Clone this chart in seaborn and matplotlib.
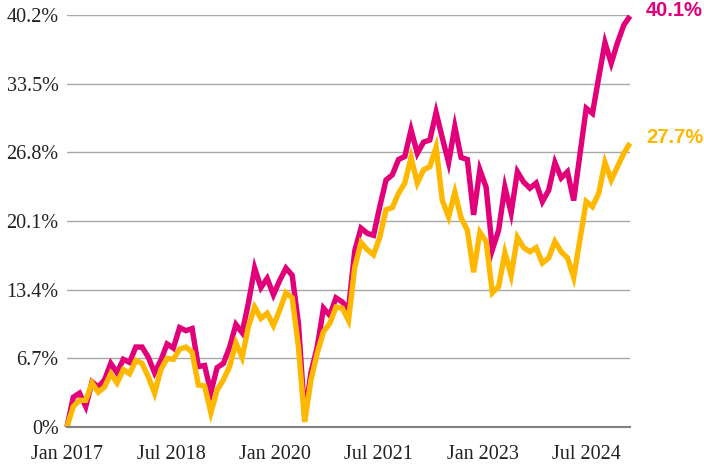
import numpy as np
import pandas as pd
import matplotlib
matplotlib.use("Agg")
import matplotlib.pyplot as plt
from matplotlib.transforms import ScaledTranslation
import seaborn as sns

# Data (monthly, Jan 2017 - Jul 2024), values in %
months = pd.date_range("2017-01-01", "2024-07-01", freq="MS")
pink_vals = [0.0, 2.9, 3.3, 2.0, 4.4, 3.9, 4.6, 6.2, 5.3, 6.6,
             6.3, 7.8, 7.8, 6.8, 5.3, 6.5, 8.1, 7.7, 9.7, 9.4,
             9.6, 5.9, 6.0, 3.4, 5.8, 6.2, 7.8, 10.0, 9.2, 12.1,
             15.5, 13.6, 14.5, 12.9, 14.3, 15.5, 14.8, 10.1, 1.0, 5.3,
             7.8, 11.6, 10.9, 12.6, 12.2, 11.5, 17.2, 19.4, 18.9, 18.7,
             21.5, 24.1, 24.6, 26.1, 26.4, 29.0, 26.7, 27.8, 28.0, 30.7,
             28.2, 25.8, 29.3, 26.3, 26.1, 20.7, 25.1, 23.4, 17.3, 19.2,
             23.4, 20.9, 24.9, 23.9, 23.3, 23.8, 22.0, 23.1, 25.8, 24.3,
             24.9, 22.1, 26.6, 31.1, 30.6, 34.1, 37.5, 35.5, 37.5, 39.2,
             40.1]
yellow_vals = [0.0, 2.0, 2.6, 2.6, 4.3, 3.4, 3.9, 5.2, 4.3, 5.6,
               5.2, 6.5, 6.2, 4.9, 3.3, 5.6, 6.7, 6.6, 7.6, 7.8,
               7.3, 4.1, 4.0, 1.4, 3.6, 4.6, 5.9, 8.2, 6.8, 9.8,
               11.7, 10.6, 11.1, 9.9, 11.4, 13.1, 12.6, 7.8, 0.5, 4.6,
               7.2, 9.3, 10.1, 11.7, 11.6, 10.4, 15.6, 18.0, 17.3, 16.8,
               18.5, 21.2, 21.4, 22.8, 23.8, 26.3, 23.8, 25.1, 25.4, 27.3,
               22.1, 20.5, 22.9, 20.4, 19.2, 15.1, 19.0, 18.1, 13.1, 13.7,
               17.0, 14.8, 18.5, 17.5, 17.1, 17.5, 16.0, 16.5, 18.1, 17.1,
               16.5, 14.6, 18.3, 22.0, 21.5, 22.8, 25.8, 24.1, 25.4, 26.7,
               27.7]
y_ticks = [0, 6.7, 13.4, 20.1, 26.8, 33.5, 40.2]
y_labels = ["0%", "6.7%", "13.4%", "20.1%", "26.8%", "33.5%", "40.2%"]
x_tick_idx = [0, 18, 36, 54, 72, 90]
x_labels = ["Jan 2017", "Jul 2018", "Jan 2020", "Jul 2021", "Jan 2023", "Jul 2024"]

PINK = "#E2007A"
YELLOW = "#FFB800"

df = pd.DataFrame({"idx": np.arange(len(months)), "pink": pink_vals, "yellow": yellow_vals})

sns.set_style("white")
plt.rcParams["font.family"] = ["Liberation Serif", "DejaVu Serif"]

fig = plt.figure(figsize=(7.04, 4.72), dpi=100)
ax = fig.add_axes([67 / 704, 45 / 472, 563 / 704, 412 / 472])

sns.lineplot(data=df, x="idx", y="pink", color=PINK, linewidth=3.9, ax=ax, clip_on=False,
             solid_joinstyle="miter", solid_capstyle="butt")
sns.lineplot(data=df, x="idx", y="yellow", color=YELLOW, linewidth=3.9, ax=ax, clip_on=False,
             solid_joinstyle="miter", solid_capstyle="butt")

ax.set_xlim(0, len(months) - 1)
ax.set_ylim(0, 40.2)
ax.set_yticks(y_ticks)
ax.set_yticklabels(y_labels, fontsize=14.5, color="#222222")
ax.set_xticks(x_tick_idx)
ax.set_xticklabels(x_labels, fontsize=14.5, color="#222222")
ax.set_xlabel("")
ax.set_ylabel("")

ax.grid(axis="y", color="#a8a8a8", linewidth=1)
ax.set_axisbelow(True)
for s in ["top", "right", "left"]:
    ax.spines[s].set_visible(False)
ax.spines["bottom"].set_color("#808080")
ax.spines["bottom"].set_linewidth(1.5)
ax.tick_params(axis="y", length=0, pad=6)
ax.tick_params(axis="x", direction="out", length=6, width=1.2, color="#808080", pad=7)

# labels in the reference drift left of their ticks
for i, lbl in enumerate(ax.get_xticklabels()):
    lbl.set_transform(lbl.get_transform() + ScaledTranslation(-8.7 * i / 100, 0, fig.dpi_scale_trans))

for vals, col in [(pink_vals, PINK), (yellow_vals, YELLOW)]:
    ax.annotate(f"{vals[-1]}%", xy=(1, vals[-1]), xycoords=ax.get_yaxis_transform(),
                xytext=(11.5, 4), textcoords="offset points", color=col, fontsize=14.5,
                fontweight="bold", family=["Liberation Sans", "DejaVu Sans"],
                va="center", ha="left", annotation_clip=False)

fig.savefig("out.png", dpi=100)
